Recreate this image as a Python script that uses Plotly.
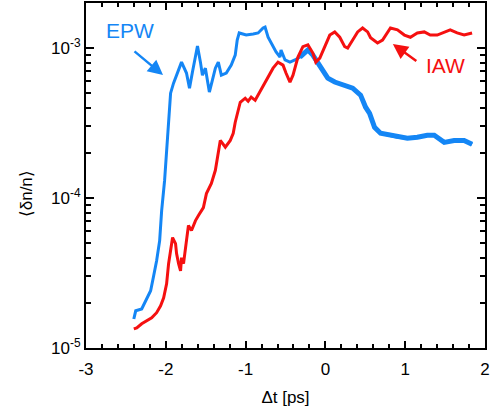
import plotly.graph_objects as go

# EPW (blue) trace: delay [ps], <dn/n>
epw_t = [-2.401, -2.377, -2.302, -2.252, -2.190, -2.152, -2.115, -2.077, -2.052, -2.015,
         -1.990, -1.965, -1.940, -1.903, -1.865, -1.803, -1.741, -1.703, -1.666, -1.603,
         -1.566, -1.541, -1.504, -1.454, -1.416, -1.379, -1.342, -1.304, -1.242, -1.180,
         -1.130, -1.105, -1.080, -0.993, -0.905, -0.843, -0.781, -0.756, -0.718, -0.656,
         -0.618, -0.569, -0.556, -0.506, -0.444, -0.382, -0.319, -0.257, -0.219, -0.157,
         -0.095, -0.032, 0.030, 0.117, 0.242, 0.342, 0.441, 0.504, 0.554, 0.616,
         0.691, 0.803, 0.903, 1.027, 1.152, 1.277, 1.364, 1.489, 1.613, 1.738, 1.838]
epw_v = [1.56e-5, 1.77e-5, 1.82e-5, 2.06e-5, 2.41e-5, 3.03e-5, 3.82e-5, 5.20e-5, 8.24e-5, 1.31e-4,
         2.08e-4, 2.83e-4, 5.00e-4, 5.83e-4, 6.59e-4, 8.05e-4, 6.81e-4, 5.40e-4, 6.91e-4, 1.03e-3,
         8.05e-4, 6.59e-4, 7.34e-4, 5.08e-4, 6.11e-4, 7.34e-4, 8.05e-4, 6.59e-4, 6.81e-4, 7.69e-4,
         8.97e-4, 1.13e-3, 1.26e-3, 1.22e-3, 1.24e-3, 1.26e-3, 1.36e-3, 1.38e-3, 1.18e-3, 1.02e-3,
         9.40e-4, 8.71e-4, 9.70e-4, 8.32e-4, 8.05e-4, 8.32e-4, 8.71e-4, 9.40e-4, 9.70e-4, 8.97e-4,
         8.05e-4, 7.13e-4, 6.30e-4, 5.93e-4, 5.66e-4, 5.40e-4, 4.85e-4, 4.03e-4, 3.67e-4, 2.96e-4,
         2.70e-4, 2.62e-4, 2.54e-4, 2.50e-4, 2.54e-4, 2.62e-4, 2.62e-4, 2.35e-4, 2.42e-4, 2.42e-4, 2.28e-4]

# IAW (red) trace
iaw_t = [-2.401, -2.364, -2.302, -2.239, -2.177, -2.115, -2.065, -2.027, -1.990, -1.965,
         -1.928, -1.915, -1.878, -1.865, -1.840, -1.815, -1.803, -1.778, -1.741, -1.716,
         -1.678, -1.628, -1.591, -1.529, -1.491, -1.429, -1.379, -1.342, -1.317, -1.254,
         -1.192, -1.155, -1.130, -1.067, -1.005, -0.968, -0.930, -0.880, -0.843, -0.781,
         -0.718, -0.656, -0.594, -0.531, -0.494, -0.444, -0.406, -0.344, -0.282, -0.219,
         -0.157, -0.120, -0.070, -0.007, 0.055, 0.117, 0.180, 0.242, 0.279, 0.342,
         0.404, 0.466, 0.529, 0.566, 0.653, 0.716, 0.815, 0.903, 0.990, 1.065,
         1.152, 1.239, 1.314, 1.401, 1.489, 1.564, 1.651, 1.738, 1.838]
iaw_v = [1.34e-5, 1.36e-5, 1.45e-5, 1.52e-5, 1.59e-5, 1.72e-5, 1.91e-5, 2.16e-5, 2.68e-5, 3.65e-5,
         4.97e-5, 5.45e-5, 4.97e-5, 4.26e-5, 3.65e-5, 3.27e-5, 4.00e-5, 3.65e-5, 5.20e-5, 6.55e-5,
         6.07e-5, 7.07e-5, 7.64e-5, 8.63e-5, 1.07e-4, 1.25e-4, 1.53e-4, 2.08e-4, 2.42e-4, 2.18e-4,
         2.42e-4, 2.70e-4, 3.20e-4, 4.35e-4, 4.63e-4, 4.42e-4, 4.70e-4, 4.48e-4, 4.85e-4, 5.66e-4,
         6.40e-4, 7.34e-4, 8.05e-4, 7.69e-4, 6.81e-4, 5.93e-4, 6.59e-4, 8.71e-4, 1.02e-3, 1.05e-3,
         9.26e-4, 8.05e-4, 8.57e-4, 1.02e-3, 1.22e-3, 1.28e-3, 1.18e-3, 1.02e-3, 1.00e-3, 1.13e-3,
         1.28e-3, 1.36e-3, 1.28e-3, 1.17e-3, 1.08e-3, 1.13e-3, 1.36e-3, 1.32e-3, 1.22e-3, 1.18e-3,
         1.26e-3, 1.28e-3, 1.22e-3, 1.22e-3, 1.28e-3, 1.32e-3, 1.26e-3, 1.22e-3, 1.26e-3]

x_ticks = [-3, -2, -1, 0, 1, 2]
x_ticktext = ["-3", "-2", "-1", "0", "1", "2"]
y_ticks = [1e-5, 1e-4, 1e-3]
y_ticktext = ["10<sup>-5</sup>", "10<sup>-4</sup>", "10<sup>-3</sup>"]

BLUE = "#1486F5"
RED = "#F51010"
FONT = "Liberation Sans, Arial, Helvetica, sans-serif"

fig = go.Figure()
fig.add_trace(go.Scatter(x=epw_t, y=epw_v, mode="lines",
                         line=dict(color=BLUE, width=3), showlegend=False))
# noisy tail of the EPW signal appears as a thicker band
tail = [i for i, t in enumerate(epw_t) if t >= -0.35]
fig.add_trace(go.Scatter(x=[epw_t[i] for i in tail], y=[epw_v[i] for i in tail], mode="lines",
                         line=dict(color=BLUE, width=5), showlegend=False))
fig.add_trace(go.Scatter(x=iaw_t, y=iaw_v, mode="lines",
                         line=dict(color=RED, width=3), showlegend=False))

y_minor = [k * 10 ** e for e in (-5, -4, -3) for k in range(2, 10) if k * 10 ** e < 1.99e-3]

fig.update_layout(
    width=493, height=417,
    margin=dict(l=86, r=8, t=3, b=69, autoexpand=False),
    plot_bgcolor="white", paper_bgcolor="white",
    font=dict(family=FONT, size=16, color="black"),
    xaxis=dict(
        range=[-3, 2], tickvals=x_ticks, ticktext=x_ticktext,
        showline=True, linecolor="black", linewidth=2, mirror="allticks",
        ticks="inside", ticklen=7, tickwidth=2, tickcolor="black",
        minor=dict(dtick=0.2, ticks="inside", ticklen=4, tickwidth=2, tickcolor="black"),
        showgrid=False, zeroline=False, automargin=False,
        tickfont=dict(size=17), ticklabelstandoff=5,
        title=dict(text="Δt [ps]", font=dict(size=17), standoff=13),
    ),
    yaxis=dict(
        type="log", range=[-5, -2.7], tickvals=y_ticks, ticktext=y_ticktext,
        showline=True, linecolor="black", linewidth=2, mirror="allticks",
        ticks="inside", ticklen=8, tickwidth=2, tickcolor="black",
        minor=dict(tickvals=y_minor, ticks="inside", ticklen=5, tickwidth=2, tickcolor="black"),
        showgrid=False, zeroline=False, automargin=False,
        tickfont=dict(size=17),
        ticklabelstandoff=0,
    ),
)

# y-axis title placed as rotated text
fig.add_annotation(x=-0.150, y=0.446, xref="paper", yref="paper", text="⟨δn/n⟩",
                   textangle=-90, showarrow=False, xanchor="center", yanchor="middle",
                   font=dict(size=17))

fig.add_annotation(x=0.110, y=0.919, xref="paper", yref="paper", text="EPW",
                   showarrow=False, xanchor="center", yanchor="middle",
                   font=dict(color=BLUE, size=21))
fig.add_annotation(x=0.193, y=0.791, xref="paper", yref="paper", text="",
                   showarrow=True, ax=-30, ay=-25, arrowhead=2, arrowsize=1.2,
                   arrowwidth=2.5, arrowcolor=BLUE)
fig.add_annotation(x=0.902, y=0.820, xref="paper", yref="paper", text="IAW",
                   showarrow=False, xanchor="center", yanchor="middle",
                   font=dict(color=RED, size=21))
fig.add_annotation(x=0.769, y=0.881, xref="paper", yref="paper", text="",
                   showarrow=True, ax=25, ay=18, arrowhead=2, arrowsize=1.2,
                   arrowwidth=2.5, arrowcolor=RED)

fig.write_html("out.html", config={"displayModeBar": False},
               post_script="document.body.style.margin='0';")
